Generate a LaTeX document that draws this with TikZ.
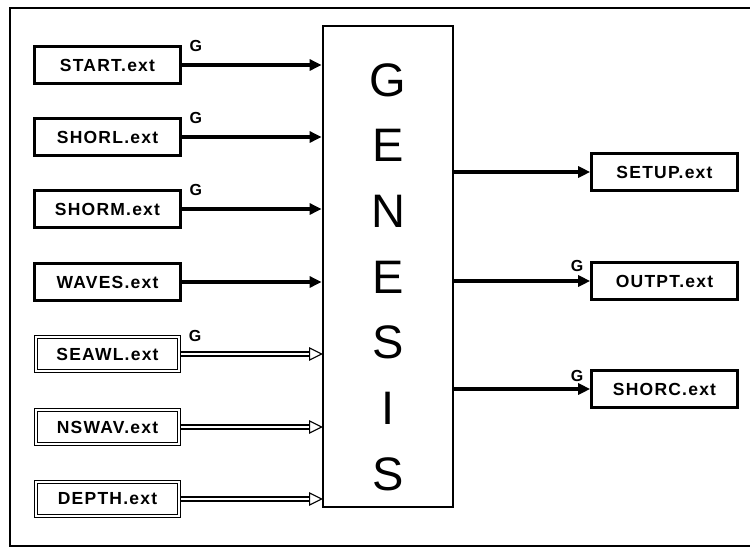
\documentclass[tikz,border=0pt]{standalone}
\usepackage{fontspec}
\setmainfont{Liberation Sans}
\newfontfamily\boxfont[LetterSpace=7]{Liberation Sans Bold}
\usetikzlibrary{arrows.meta,calc}
\tikzset{
  fbox/.style={draw, line width=2.6pt, minimum width=146pt, minimum height=37pt, inner sep=0pt,
    font=\boxfont\fontsize{17.5}{17.5}\selectfont},
  wbox/.style={fbox, line width=3.4pt},
  hbox/.style={fbox, line width=1.3pt},
  hinner/.style={line width=1pt},
  solidarrow/.style={line width=3.4pt, -{Triangle[length=12pt,width=11pt]}},
  hollowline/.style={line width=1.1pt},
  hollowhead/.style={line width=1.1pt, fill=white, line join=miter},
  glabel/.style={font=\bfseries\fontsize{16}{16}\selectfont, inner sep=0pt},
  frameline/.style={line width=1.8pt}
}
\begin{document}
\begin{tikzpicture}[x=1pt,y=-1pt]
\useasboundingbox (0,0) rectangle (750,550);
% frame (open on the right)
\coordinate (ftr) at (750,8);
\coordinate (ftl) at (10,8);
\coordinate (fbl) at (10,546);
\coordinate (fbr) at (750,546);
\draw[frameline] (ftr) -- (ftl) -- (fbl) -- (fbr);

% central box
\node[draw, line width=2.8pt, minimum width=130pt, minimum height=481pt, inner sep=0pt] (gen) at (388,266.5) {};
\node[inner sep=0pt, align=center, font=\fontsize{47}{65.7}\selectfont] (gentext) at (388,277)
  {G\\E\\N\\E\\S\\I\\S};

% input boxes
\node[fbox] (start) at (107.5,65) {START.ext};
\node[fbox] (shorl) at (107.5,137) {SHORL.ext};
\node[fbox] (shorm) at (107.5,209) {SHORM.ext};
\node[wbox] (waves) at (107.5,282) {WAVES.ext};
\node[hbox] (seawl) at (107.5,354) {SEAWL.ext};
\node[hbox] (nswav) at (107.5,427) {NSWAV.ext};
\node[hbox] (depth) at (107.5,499) {DEPTH.ext};
\foreach \n in {seawl,nswav,depth}
  \draw[hinner] ($(\n.south west)+(3.2,-3.2)$) rectangle ($(\n.north east)+(-3.2,3.2)$);

% output boxes
\node[fbox] (setup) at (664.5,172) {SETUP.ext};
\node[fbox] (outpt) at (664.5,281) {OUTPT.ext};
\node[fbox] (shorc) at (664.5,389) {SHORC.ext};

% solid input arrows
\foreach \n in {start,shorl,shorm,waves}
  \draw[solidarrow] (\n.east) -- (\n.east -| gen.west);

% hollow input arrows (double shaft, open head)
\foreach \n in {seawl,nswav,depth}{
  \coordinate (\n tip) at (\n.east -| gen.west);
  \draw[hollowline] ($(\n.east)+(0,-2)$) -- ($(\n tip)+(-11,-2)$);
  \draw[hollowline] ($(\n.east)+(0,2)$) -- ($(\n tip)+(-11,2)$);
  \draw[hollowhead] ($(\n tip)+(-12,-6)$) -- (\n tip) -- ($(\n tip)+(-12,6)$) -- cycle;
}

% output arrows
\foreach \n in {setup,outpt,shorc}
  \draw[solidarrow] (\n.west -| gen.east) -- (\n.west);

% G labels
\node[glabel] (gstart) at ($(start.north east)+(14,1)$) {G};
\node[glabel] (gshorl) at ($(shorl.north east)+(14,1)$) {G};
\node[glabel] (gshorm) at ($(shorm.north east)+(14,1)$) {G};
\node[glabel] (gseawl) at ($(seawl.north east)+(14,1)$) {G};
\node[glabel] (goutpt) at ($(outpt.north west)+(-13,5)$) {G};
\node[glabel] (gshorc) at ($(shorc.north west)+(-13,7)$) {G};
\end{tikzpicture}
\end{document}
